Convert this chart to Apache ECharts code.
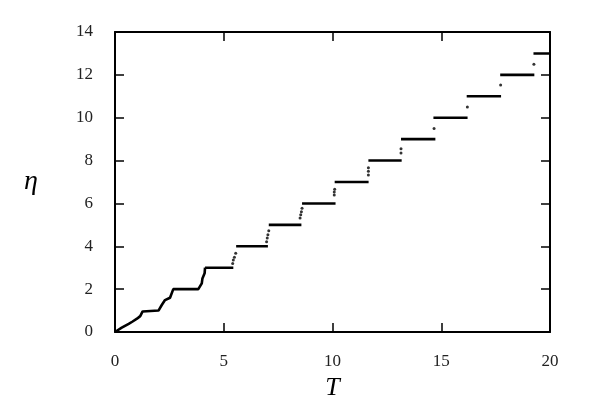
<!DOCTYPE html>
<html>
<head>
<meta charset="utf-8">
<script src="https://cdn.jsdelivr.net/npm/echarts@6/dist/echarts.min.js"></script>
<style>
  html, body { margin: 0; padding: 0; background: #fff; }
  #chart { width: 598px; height: 419px; }
</style>
</head>
<body>
<div id="chart"></div>
<script>
// early part, drawn as one continuous trace (T, eta)
const rampT   = [0, 0.31, 0.63, 0.81, 1.01, 1.16, 1.27, 1.32, 2.0, 2.15, 2.3, 2.53, 2.68, 3.83, 3.99, 4.02, 4.12, 4.14]
const rampEta = [0, 0.2, 0.38, 0.49, 0.62, 0.74, 0.96, 1, 1, 1.26, 1.49, 1.6, 2, 2, 2.27, 2.5, 2.74, 3]

// plateaus eta = 3 .. 13
const plateauEta   = [3, 4, 5, 6, 7, 8, 9, 10, 11, 12, 13]
const plateauStart = [4.14, 5.57, 7.07, 8.6, 10.1, 11.65, 13.15, 14.64, 16.17, 17.71, 19.24]
const plateauEnd   = [5.44, 7.03, 8.57, 10.14, 11.66, 13.18, 14.73, 16.21, 17.75, 19.28, 20]

// isolated points between plateaus
const jumpT   = [5.41, 5.44, 5.49, 5.55, 6.97, 7.0, 7.03, 7.07, 8.51, 8.54, 8.57, 8.6, 10.08, 10.08, 10.1, 11.65, 11.65, 11.65, 13.15, 13.15, 14.67, 16.2, 17.73, 19.26]
const jumpEta = [3.2, 3.36, 3.49, 3.67, 4.21, 4.39, 4.54, 4.73, 5.32, 5.47, 5.61, 5.77, 6.39, 6.53, 6.66, 7.33, 7.5, 7.67, 8.35, 8.55, 9.5, 10.5, 11.53, 12.5]

const xTicks = [0, 5, 10, 15, 20]
const yTicks = [0, 2, 4, 6, 8, 10, 12, 14]

const chart = echarts.init(document.getElementById("chart"))

const serif = "Liberation Serif"
const frame = { show: true, onZero: false, lineStyle: { color: "#000", width: 2 } }
const ticks = { show: true, inside: true, length: 9, lineStyle: { color: "#000", width: 1.5 } }

let plateauSeries = plateauEta.map((eta, i) => ({
    type: "line",
    symbol: "none",
    lineStyle: { color: "#000", width: 2.6 },
    data: [[plateauStart[i], eta], [plateauEnd[i], eta]],
}))

chart.setOption({
    animation: false,
    grid: { left: 115, right: 48, top: 32, bottom: 87 },
    xAxis: [
        {
            type: "value",
            min: xTicks[0],
            max: xTicks[xTicks.length - 1],
            interval: 5,
            name: "T",
            nameLocation: "middle",
            nameGap: 40,
            nameTextStyle: { fontFamily: serif, fontStyle: "italic", fontSize: 26, color: "#000" },
            axisLine: frame,
            axisTick: ticks,
            splitLine: { show: false },
            axisLabel: { fontFamily: serif, fontSize: 17, color: "#222", margin: 21 },
        },
        {
            type: "value",
            position: "top",
            min: 0, max: 20, interval: 5,
            axisLine: frame,
            axisTick: ticks,
            splitLine: { show: false },
            axisLabel: { show: false },
        },
    ],
    yAxis: [
        {
            type: "value",
            min: yTicks[0],
            max: yTicks[yTicks.length - 1],
            interval: 2,
            name: "η",
            nameLocation: "middle",
            nameRotate: 0,
            nameGap: 77,
            nameTextStyle: { fontFamily: serif, fontStyle: "italic", fontSize: 28, color: "#000" },
            axisLine: frame,
            axisTick: ticks,
            splitLine: { show: false },
            axisLabel: { fontFamily: serif, fontSize: 17, color: "#222", margin: 22 },
        },
        {
            type: "value",
            position: "right",
            min: 0, max: 14, interval: 2,
            axisLine: frame,
            axisTick: ticks,
            splitLine: { show: false },
            axisLabel: { show: false },
        },
    ],
    series: [
        {
            type: "line",
            symbol: "none",
            lineStyle: { color: "#000", width: 2.6 },
            data: rampT.map((t, i) => [t, rampEta[i]]),
        },
        ...plateauSeries,
        {
            type: "scatter",
            symbolSize: 3,
            itemStyle: { color: "#000" },
            data: jumpT.map((t, i) => [t, jumpEta[i]]),
        },
    ],
})
</script>
</body>
</html>
